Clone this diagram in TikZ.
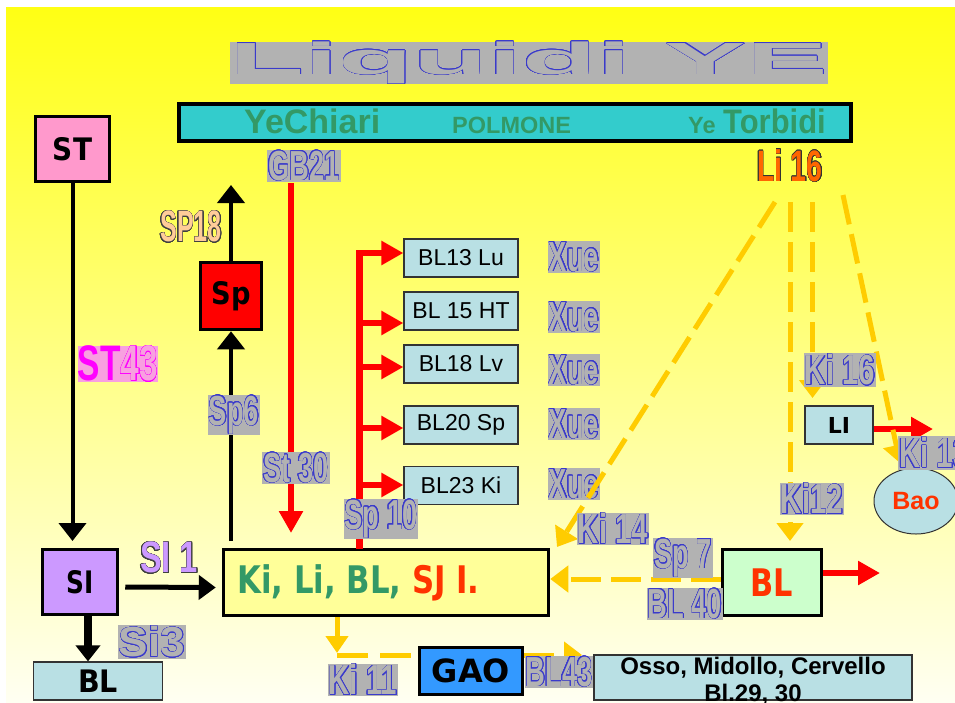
\documentclass[tikz,border=0pt]{standalone}
\usepackage{fontspec}
\setmainfont{Liberation Sans}
\newfontfamily\dvsans{DejaVu Sans}
\usepackage{graphicx}
\usepackage[copies]{contour}
\usetikzlibrary{arrows.meta,shapes.geometric}
\contourlength{0.5pt}
\contournumber{24}
\definecolor{bgtop}{HTML}{FFFF14}
\definecolor{bgbot}{HTML}{FFFFF2}
\definecolor{barteal}{HTML}{33CCCC}
\definecolor{bargreen}{HTML}{339966}
\definecolor{stpink}{HTML}{FF99CC}
\definecolor{sipurple}{HTML}{CC99FF}
\definecolor{kbyellow}{HTML}{FFFF99}
\definecolor{blgreen}{HTML}{CCFFCC}
\definecolor{gaoblue}{HTML}{3399FF}
\definecolor{lightblue}{HTML}{B9E0E4}
\definecolor{ydash}{HTML}{FFCC00}
\definecolor{labgray}{HTML}{B2B2B2}
\definecolor{olblue}{HTML}{3A3ACC}
\definecolor{redtext}{HTML}{FF3300}
\definecolor{peach}{HTML}{FFCC99}
\definecolor{liorange}{HTML}{FF6600}
\definecolor{magentatext}{HTML}{FF00FF}
\definecolor{pinkbg}{HTML}{F8A0E0}
\newcommand{\fsz}[1]{\fontsize{#1}{#1}\selectfont}
\newcommand{\fillol}[4]{\textcolor{#1}{\contour{#2}{\scalebox{#3}[1]{#4}}}}
\newcommand{\olt}[2]{\fillol{labgray}{olblue}{#1}{#2}}
\tikzset{
  thickbox/.style={draw=black, line width=3.5pt, inner sep=0pt},
  thinbox/.style={draw=black!80, line width=1.2pt, fill=lightblue, inner sep=0pt},
  lab/.style={fill=labgray, inner xsep=1pt, inner ysep=1pt, font=\bfseries\fsz{42}},
  clab/.style={inner sep=0pt, font=\bfseries\fsz{44}},
  blk/.style={draw=black, line width=4pt, -{Triangle[length=18pt,width=27pt]}},
  redarr/.style={draw=red, line width=6pt, -{Triangle[length=22pt,width=23pt]}},
  redline/.style={draw=red, line width=7pt},
  yarr/.style={draw=ydash, line width=5pt, dash pattern=on 30pt off 10pt, -{Triangle[length=18pt,width=26pt]}},
  ydashline/.style={draw=ydash, line width=5pt, dash pattern=on 31pt off 12pt},
  bltext/.style={font=\fsz{23}},
}
\begin{document}
\begin{tikzpicture}[x=1pt,y=-1pt]
\useasboundingbox (0,0) rectangle (955,702);
\fill[white] (0,0) rectangle (955,702);
\shade[top color=bgtop, bottom color=bgbot] (6,7) rectangle (955,702);

% title
\node[fill=labgray, inner sep=0pt, font=\bfseries\fsz{45}] (title) at (529,63) {\olt{2.72}{Liquidi YE}};

% top bar
\node[draw=black, line width=4pt, fill=barteal, minimum width=672pt, minimum height=37pt, inner sep=0pt] (bar) at (515,122) {};
\node[anchor=base west, inner sep=0pt, font=\bfseries\fsz{34}, text=bargreen] (yc) at (244,133) {YeChiari};
\node[anchor=base west, inner sep=0pt, font=\bfseries\fsz{23.5}, text=bargreen] (pol) at (452,133) {POLMONE};
\node[anchor=base west, inner sep=0pt, font=\bfseries\fsz{23.5}, text=bargreen] (ye) at (688,133) {Ye};
\node[anchor=base west, inner sep=0pt, font=\bfseries\fsz{34}, text=bargreen] (tb) at (723,133) {\scalebox{0.91}[1]{Torbidi}};

% main boxes
\node[thickbox, fill=stpink, minimum width=74pt, minimum height=65pt, font=\dvsans\bfseries\fsz{31}] (st) at (72.5,149) {\scalebox{0.9}[1]{ST}};
\node[thickbox, fill=sipurple, minimum width=75pt, minimum height=65pt, font=\dvsans\bfseries\fsz{31}] (si) at (80,582) {\scalebox{0.8}[1]{SI}};
\node[thickbox, fill=red, minimum width=61pt, minimum height=67pt, font=\dvsans\bfseries\fsz{31}] (sp) at (231,296) {\scalebox{0.88}[1]{Sp}};
\node[thickbox, fill=kbyellow, minimum width=325pt, minimum height=66pt] (kb) at (386,582.5) {};
\node[anchor=west, inner sep=0pt, font=\dvsans\bfseries\fsz{38}] (kbtext) at (237,583) {\scalebox{0.81}[1]{\textcolor{bargreen}{Ki, Li, BL, }\textcolor{redtext}{SJ I.}}};
\node[thickbox, fill=blgreen, minimum width=99pt, minimum height=66pt, font=\dvsans\bfseries\fsz{38}, text=redtext] (blg) at (772,582.5) {\scalebox{0.8}[1]{BL}};
\node[thickbox, fill=gaoblue, minimum width=103pt, minimum height=47pt, font=\dvsans\bfseries\fsz{32}] (gao) at (471,671) {GAO};
\node[thinbox, minimum width=129pt, minimum height=38pt, font=\dvsans\bfseries\fsz{31}] (blb) at (98,681) {\scalebox{0.92}[1]{BL}};
\node[thinbox, minimum width=318pt, minimum height=45pt] (osso) at (753,677.5) {};
\node[anchor=north, inner sep=0pt, align=center, font=\bfseries\fontsize{24}{27}\selectfont] (ossotext) at (753,657) {Osso, Midollo, Cervello\\Bl.29, 30};

\node[thinbox, minimum width=114pt, minimum height=38pt, bltext] (b1) at (461,258) {BL13 Lu};
\node[thinbox, minimum width=114pt, minimum height=38pt, bltext] (b2) at (461,311) {BL 15 HT};
\node[thinbox, minimum width=114pt, minimum height=38pt, bltext] (b3) at (461,364) {BL18 Lv};
\node[thinbox, minimum width=114pt, minimum height=38pt, bltext] (b4) at (461,425) {BL20 Sp};
\node[thinbox, minimum width=114pt, minimum height=38pt, bltext] (b5) at (461,485.5) {BL23 Ki};
\node[thinbox, minimum width=68pt, minimum height=38pt, font=\dvsans\bfseries\fsz{22}] (li) at (839,425) {LI};
\node[ellipse, draw=black!80, line width=1pt, fill=lightblue, minimum width=84pt, minimum height=66pt, inner sep=0pt, font=\bfseries\fsz{25}, text=redtext] (bao) at (916,501) {Bao};

% Xue labels
\node[lab] (xue1) at (574,257) {\olt{0.65}{Xue}};
\node[lab] (xue2) at (574,317) {\olt{0.65}{Xue}};
\node[lab] (xue3) at (574,370) {\olt{0.65}{Xue}};
\node[lab] (xue4) at (574,424) {\olt{0.65}{Xue}};
\node[lab] (xue5) at (574,484) {\olt{0.65}{Xue}};

% coordinates for free ends
\coordinate (stsi) at (72.5,541);
\coordinate (sptop) at (231,185);
\coordinate (spbot) at (231,541);
\coordinate (gbtop) at (291,183);
\coordinate (gbtip) at (291,533);
\coordinate (trb) at (359,549);
\coordinate (trt) at (359,250);
\coordinate (t1) at (356,253);
\coordinate (t2) at (359,323);
\coordinate (t3) at (359,367);
\coordinate (t4) at (359,428);
\coordinate (t5) at (359,485);
\coordinate (blgout) at (880,573);
\coordinate (liout) at (933,429);
\coordinate (kbdown) at (337,653);
\coordinate (kbcorner) at (337,655);
\coordinate (gaoout) at (582,655);
\coordinate (l1s) at (775,202);
\coordinate (l1e) at (557,547);
\coordinate (l2s) at (790,202);
\coordinate (l2e) at (790,541);
\coordinate (l3s) at (812.5,202);
\coordinate (l3e) at (812.5,398);
\coordinate (l4s) at (843,195);
\coordinate (l4e) at (900,463);

% black connectors
\draw[blk] (st.south) -- (stsi);
\draw[blk] (sp.north) -- (sptop);
\draw[blk] (spbot) -- (sp.south);
\draw[blk, line width=5pt, -{Triangle[length=17pt,width=24pt]}] ([shift={(6pt,-5pt)}]si.east) -- ([shift={(-6pt,-5pt)}]kb.west);
\draw[blk, line width=8pt, -{Triangle[length=16pt,width=24pt]}] ([xshift=8pt]si.south) -- ([xshift=-10pt]blb.north);

% red connectors
\draw[redarr, line width=6.5pt] (gbtop) -- (gbtip);
\draw[redline] (trb) -- (trt);
\draw[redarr] (t1) -- (t1 -| b1.west);
\draw[redarr] (t2) -- (t2 -| b2.west);
\draw[redarr] (t3) -- (t3 -| b3.west);
\draw[redarr] (t4) -- (t4 -| b4.west);
\draw[redarr] (t5) -- (t5 -| b5.west);
\draw[redarr, line width=5.5pt] ([yshift=9.5pt]blg.east) -- (blgout);
\draw[redarr, line width=5.5pt] ([yshift=-4pt]li.east) -- (liout);

% yellow connectors
\draw[yarr] ([yshift=3.5pt]blg.west) -- ([yshift=3.5pt]kb.east);
\draw[draw=ydash, line width=5pt, -{Triangle[length=17pt,width=22pt]}] ([xshift=-49pt]kb.south) -- (kbdown);
\draw[ydashline] (kbcorner) -- ([yshift=16pt]gao.west);
\draw[yarr] ([yshift=16pt]gao.east) -- (gaoout);
\draw[yarr] (l1s) -- (l1e);
\draw[yarr] (l2s) -- (l2e);
\draw[yarr] (l3s) -- (l3e);
\draw[yarr] (l4s) -- (l4e);

% labels on top
\node[lab] (gb21) at (304,166) {\olt{0.65}{GB21}};
\node[lab] (sp6) at (234,415) {\olt{0.65}{Sp6}};
\node[lab] (st30) at (296,468) {\olt{0.65}{St 30}};
\node[lab] (sp10) at (381,519) {\olt{0.65}{Sp 10}};
\node[lab] (ki16) at (840,370) {\olt{0.7}{Ki 16}};
\node[lab] (ki12) at (812,499) {\olt{0.7}{Ki12}};
\node[lab] (ki14) at (613,529) {\olt{0.7}{Ki 14}};
\node[lab, anchor=west] (ki13) at (898,453) {\olt{0.7}{Ki 13}};
\node[lab] (sp7) at (683,558) {\olt{0.65}{Sp 7}};
\node[lab] (bl40) at (685,604) {\olt{0.65}{BL 40}};
\node[lab] (bl43) at (559,672) {\olt{0.65}{BL43}};
\node[lab] (ki11) at (363,680) {\olt{0.7}{Ki 11}};
\node[lab] (si3) at (152,642) {\olt{1.05}{Si3}};
\node[clab] (sp18) at (191,227) {\fillol{peach}{black!75}{0.57}{SP18}};
\node[clab] (si1) at (169,558) {\fillol{sipurple}{black!75}{0.74}{SI 1}};
\node[clab] (li16) at (790,166) {\fillol{liorange}{black!80}{0.65}{Li 16}};
\node[inner sep=0pt, fill=pinkbg, font=\bfseries\fsz{50}] (st43) at (118,364) {\scalebox{0.67}[1]{\textcolor{magentatext}{ST}\textcolor{pinkbg}{\contour{magentatext}{43}}}};
\end{tikzpicture}
\end{document}
